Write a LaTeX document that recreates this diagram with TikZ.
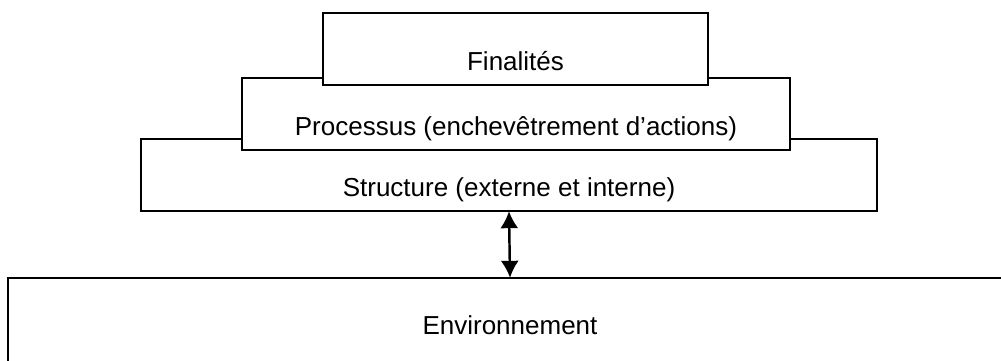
\documentclass[tikz,border=0pt]{standalone}
\usepackage{fontspec}
\setmainfont{Liberation Sans}
\usetikzlibrary{arrows.meta}

\begin{document}
\begin{tikzpicture}[x=0.02cm,y=-0.02cm,
  font=\fontsize{14.8}{17}\selectfont,
  tier/.style={draw,fill=white,line width=1.2pt,inner sep=0pt,
    minimum height=1.44cm,text height=0.84cm,text depth=0pt},
  link/.style={{Latex[length=0.34cm,width=0.36cm]}-{Latex[length=0.34cm,width=0.36cm]},
    line width=1.4pt,shorten <=-0.5pt,shorten >=-0.5pt}
]
  \useasboundingbox (0,0) rectangle (1001,360);

  % stacked levels, lowest first so the upper ones overlap it
  \node[tier,minimum width=14.72cm] (struct) at (509,175)
    {Structure (externe et interne)};
  \node[tier,minimum width=10.96cm] (proc) at (516,114)
    {Processus (enchevêtrement d’actions)};
  \node[tier,minimum width=7.7cm] (fin) at (515.5,49) {Finalités};

  \node[tier,minimum width=20.08cm,minimum height=1.84cm,text height=0.4cm]
    (env) at (510,324) {Environnement};

  \draw[link] (struct.south) -- (env.north);
\end{tikzpicture}
\end{document}
